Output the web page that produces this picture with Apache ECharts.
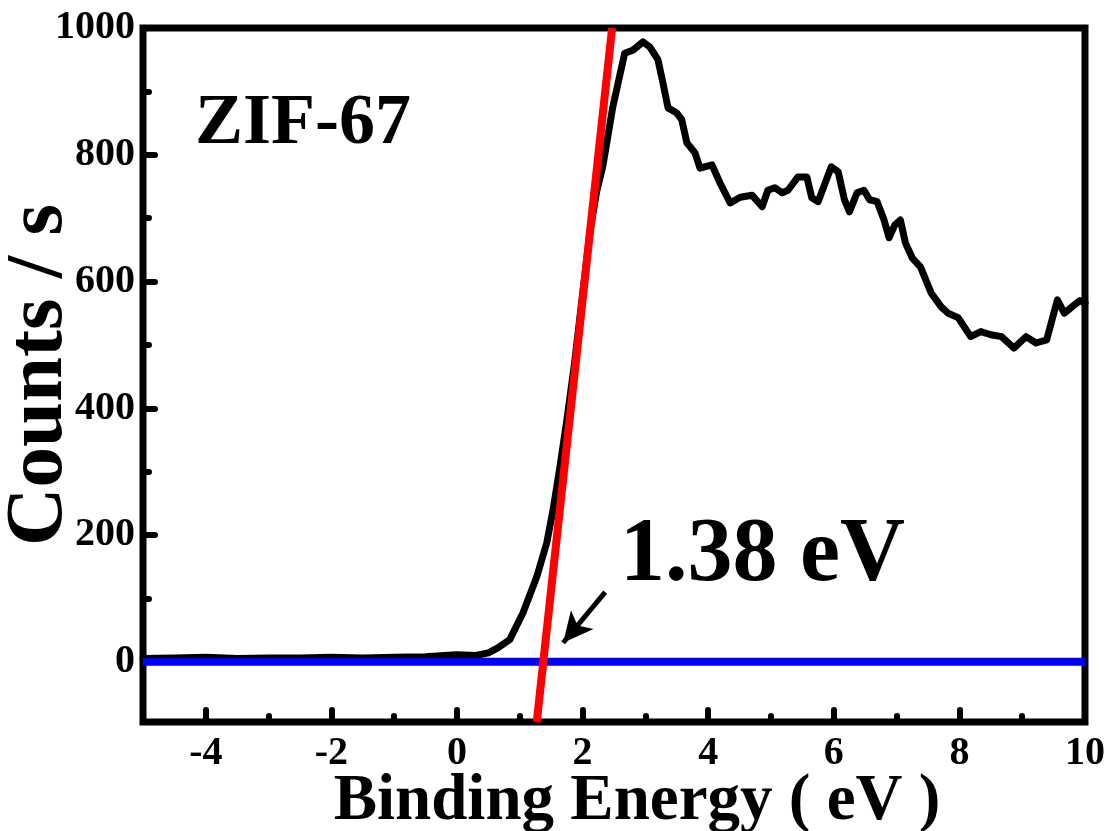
<!DOCTYPE html>
<html>
<head>
<meta charset="utf-8">
<script src="https://cdn.jsdelivr.net/npm/echarts@6/dist/echarts.min.js"></script>
<style>html,body{margin:0;padding:0;background:#fff}#c{width:1109px;height:831px}</style>
</head>
<body>
<div id="c"></div>
<script>
// ---- data ----
const spectrumX = [-5,-4.5,-4,-3.5,-3,-2.5,-2,-1.5,-1,-0.5,-0.2,0,0.3,0.5,0.65,0.84,1.05,1.27,1.43,1.53,1.64,1.75,1.87,2.0,2.12,2.22,2.32,2.48,2.67,2.8,2.96,3.07,3.2,3.28,3.36,3.5,3.58,3.66,3.79,3.87,4.06,4.19,4.35,4.51,4.7,4.86,4.95,5.06,5.18,5.27,5.43,5.57,5.65,5.75,5.96,6.07,6.17,6.25,6.37,6.48,6.57,6.69,6.8,6.88,6.97,7.06,7.14,7.25,7.38,7.55,7.71,7.82,7.98,8.18,8.34,8.5,8.67,8.87,9.06,9.22,9.39,9.56,9.67,9.83,9.92,10];
const spectrumY = [5,6,7,5,6,6,7,6,7,8,10,11,10,14,22,35,77,134,188,240,308,382,470,580,680,740,781,875,960,965,978,970,950,913,874,866,855,819,803,779,784,755,724,733,736,718,744,748,740,744,765,765,732,726,781,773,729,710,740,744,729,726,697,669,689,697,661,637,623,582,560,550,543,513,521,516,513,495,513,503,508,571,550,563,570,566];
const tangentLine = [[1.27,-95],[2.47,1000]];   // red extrapolation line
const baseLine = [[-5,0],[10,0]];               // blue zero line
const arrowFrom = [2.36,110];
const arrowTo = [1.69,30];
const xTickLabels = [-4,-2,0,2,4,6,8,10];
const xMajorTicks = [-4,-2,0,2,4,6,8];
const xMinorTicks = [-3,-1,1,3,5,7,9];
const yTickLabels = [0,200,400,600,800,1000];
const yMajorTicks = [0,200,400,600,800];
const yMinorTicks = [100,300,500,700,900];
const xTitle = 'Binding Energy ( eV )';
const yTitle = 'Counts / s';
const sampleName = 'ZIF-67';
const gapLabel = '1.38 eV';

const FONT = '"Liberation Serif","Times New Roman",serif';
const spectrum = spectrumX.map((x,i)=>[x,spectrumY[i]]);

const chart = echarts.init(document.getElementById('c'), null, {renderer:'canvas'});
const tickStyle = {color:'#000', width:6, cap:'round'};
const labelStyle = {color:'#000', fontFamily:FONT, fontWeight:'bold', fontSize:40, formatter:v=>String(v)};
const hiddenLine = {show:false, onZero:false};
chart.setOption({
  animation:false,
  backgroundColor:'#fff',
  grid:{left:143, right:24, top:28, bottom:109, outerBoundsMode:'none', containLabel:false,
        show:true, borderColor:'#000', borderWidth:7, backgroundColor:'transparent'},
  xAxis:[
    {type:'value', min:-5, max:10, position:'bottom',
     axisLine:hiddenLine, splitLine:{show:false},
     axisTick:{show:true, inside:true, length:12, customValues:xMajorTicks, lineStyle:tickStyle},
     axisLabel:Object.assign({customValues:xTickLabels, margin:12}, labelStyle),
     name:xTitle, nameLocation:'middle', nameGap:48, nameMoveOverlap:false,
     nameTextStyle:{color:'#000', fontFamily:FONT, fontWeight:'bold', fontSize:65, padding:[0,0,0,46]}},
    {type:'value', min:-5, max:10, position:'bottom',
     axisLine:hiddenLine, splitLine:{show:false}, axisLabel:{show:false},
     axisTick:{show:true, inside:true, length:6, customValues:xMinorTicks, lineStyle:tickStyle}}
  ],
  yAxis:[
    {type:'value', min:-95, max:1000, position:'left',
     axisLine:hiddenLine, splitLine:{show:false},
     axisTick:{show:true, inside:true, length:12, customValues:yMajorTicks, lineStyle:tickStyle},
     axisLabel:Object.assign({customValues:yTickLabels, margin:8}, labelStyle),
     name:yTitle, nameLocation:'middle', nameGap:62, nameMoveOverlap:false,
     nameTextStyle:{color:'#000', fontFamily:FONT, fontWeight:'bold', fontSize:81}},
    {type:'value', min:-95, max:1000, position:'left',
     axisLine:hiddenLine, splitLine:{show:false}, axisLabel:{show:false},
     axisTick:{show:true, inside:true, length:6, customValues:yMinorTicks, lineStyle:tickStyle}}
  ],
  series:[
    {type:'line', name:'spectrum', data:spectrum, showSymbol:false, symbol:'none', z:2,
     lineStyle:{color:'#000', width:7, join:'round', cap:'round'}},
    {type:'line', name:'baseline', data:baseLine, showSymbol:false, symbol:'none', z:3,
     lineStyle:{color:'#0000ff', width:8},
     markLine:{silent:true, symbol:['none','arrow'], symbolSize:[22,30], label:{show:false},
       lineStyle:{color:'#000', width:5, type:'solid'},
       data:[[{coord:arrowFrom},{coord:arrowTo}]]}},
    {type:'line', name:'tangent', data:tangentLine, showSymbol:false, symbol:'none', z:4,
     lineStyle:{color:'#ff0000', width:8}}
  ],
  graphic:[
    {type:'text', x:195, y:124, style:{text:sampleName, fill:'#000', fontFamily:FONT, fontWeight:'bold', fontSize:72, align:'left', verticalAlign:'middle'}},
    {type:'text', x:620, y:557, style:{text:gapLabel, fill:'#000', fontFamily:FONT, fontWeight:'bold', fontSize:90, align:'left', verticalAlign:'middle'}}
  ]
});
</script>
</body>
</html>
